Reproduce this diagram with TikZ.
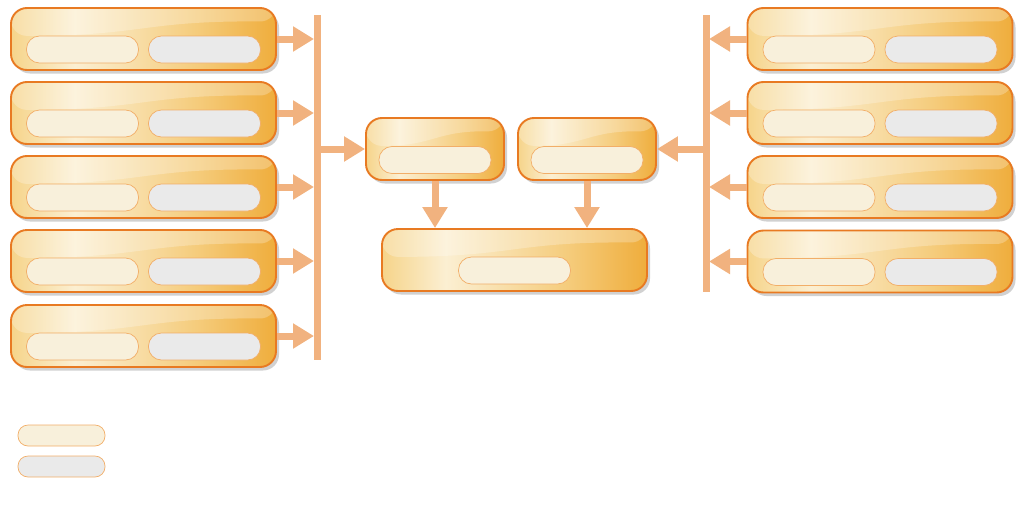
\documentclass[tikz,border=0pt]{standalone}
\usetikzlibrary{arrows.meta,shadows,calc}
\definecolor{boxedge}{HTML}{E87A22}
\definecolor{shadeA}{HTML}{F6D48A}
\definecolor{shadeB}{HTML}{FBEFD2}
\definecolor{shadeC}{HTML}{F5CC7C}
\definecolor{shadeD}{HTML}{EFAD3C}
\definecolor{pillcream}{HTML}{F8F0DB}
\definecolor{pillgray}{HTML}{EAEAEA}
\definecolor{pilledge}{HTML}{F2AE68}
\definecolor{flowcol}{HTML}{F1B27F}
\pgfdeclarehorizontalshading{boxshade}{100bp}{color(0bp)=(shadeA); color(25bp)=(shadeA); color(37bp)=(shadeB); color(60bp)=(shadeC); color(75bp)=(shadeD); color(100bp)=(shadeD)}
\newcommand{\boxH}{62}
\newcommand{\sideW}{265}
\newcommand{\midW}{138}
\newcommand{\pillX}{61}
\newcommand{\pillY}{10.5}

\begin{document}
\begin{tikzpicture}[x=1pt,y=-1pt,
    box/.style={draw=boxedge,line width=1.9pt,rounded corners=16pt,shading=boxshade,
        minimum height=\boxH pt,inner sep=0pt,
        drop shadow={shadow xshift=3pt,shadow yshift=-3.5pt,opacity=0.3,fill=black!60},
        path picture={\fill[white,fill opacity=0.25]
            (path picture bounding box.north west)
            -- ($(path picture bounding box.north west)!0.45!(path picture bounding box.south west)$)
            .. controls ($(path picture bounding box.north)!0.45!(path picture bounding box.south)$)
            and ($(path picture bounding box.north)!0.2!(path picture bounding box.south)$)
            .. ($(path picture bounding box.north east)!0.22!(path picture bounding box.south east)$)
            -- (path picture bounding box.north east) -- cycle;}},
    pill/.style={draw=pilledge,line width=0.7pt,rounded corners=13pt,fill=pillcream,
        minimum width=112pt,minimum height=27pt,inner sep=0pt},
    greypill/.style={pill,fill=pillgray},
    keypill/.style={draw=pilledge,line width=0.7pt,rounded corners=10pt,
        minimum width=87pt,minimum height=21pt,inner sep=0pt},
    bar/.style={flowcol,line width=7pt},
    flow/.style={flowcol,line width=7pt,-{Triangle[length=21pt,width=24pt]}}]

    % Fix the page size
    \useasboundingbox (0,0) rectangle (1022,530);

    % Source boxes on the left
    \node[box,minimum width=\sideW pt] (l1) at (143.5,39) {};
    \node[box,minimum width=\sideW pt] (l2) at (143.5,113) {};
    \node[box,minimum width=\sideW pt] (l3) at (143.5,187) {};
    \node[box,minimum width=\sideW pt] (l4) at (143.5,261) {};
    \node[box,minimum width=\sideW pt] (l5) at (143.5,336) {};

    % Source boxes on the right
    \node[box,minimum width=\sideW pt] (r1) at (880,39) {};
    \node[box,minimum width=\sideW pt] (r2) at (880,113) {};
    \node[box,minimum width=\sideW pt] (r3) at (880,187) {};
    \node[box,minimum width=\sideW pt] (r4) at (880,261.5) {};

    % Middle boxes
    \node[box,minimum width=\midW pt] (mA) at (435,149) {};
    \node[box,minimum width=\midW pt] (mB) at (587,149) {};
    \node[box,minimum width=\sideW pt] (mC) at (514.5,260) {};

    % Pills inside the boxes
    \node[pill,xshift=-\pillX pt,yshift=-\pillY pt] (l1a) at (l1.center) {};
    \node[greypill,xshift=\pillX pt,yshift=-\pillY pt] (l1b) at (l1.center) {};
    \node[pill,xshift=-\pillX pt,yshift=-\pillY pt] (l2a) at (l2.center) {};
    \node[greypill,xshift=\pillX pt,yshift=-\pillY pt] (l2b) at (l2.center) {};
    \node[pill,xshift=-\pillX pt,yshift=-\pillY pt] (l3a) at (l3.center) {};
    \node[greypill,xshift=\pillX pt,yshift=-\pillY pt] (l3b) at (l3.center) {};
    \node[pill,xshift=-\pillX pt,yshift=-\pillY pt] (l4a) at (l4.center) {};
    \node[greypill,xshift=\pillX pt,yshift=-\pillY pt] (l4b) at (l4.center) {};
    \node[pill,xshift=-\pillX pt,yshift=-\pillY pt] (l5a) at (l5.center) {};
    \node[greypill,xshift=\pillX pt,yshift=-\pillY pt] (l5b) at (l5.center) {};

    \node[pill,xshift=-\pillX pt,yshift=-\pillY pt] (r1a) at (r1.center) {};
    \node[greypill,xshift=\pillX pt,yshift=-\pillY pt] (r1b) at (r1.center) {};
    \node[pill,xshift=-\pillX pt,yshift=-\pillY pt] (r2a) at (r2.center) {};
    \node[greypill,xshift=\pillX pt,yshift=-\pillY pt] (r2b) at (r2.center) {};
    \node[pill,xshift=-\pillX pt,yshift=-\pillY pt] (r3a) at (r3.center) {};
    \node[greypill,xshift=\pillX pt,yshift=-\pillY pt] (r3b) at (r3.center) {};
    \node[pill,xshift=-\pillX pt,yshift=-\pillY pt] (r4a) at (r4.center) {};
    \node[greypill,xshift=\pillX pt,yshift=-\pillY pt] (r4b) at (r4.center) {};

    \node[pill,yshift=-11pt] (mAa) at (mA.center) {};
    \node[pill,yshift=-11pt] (mBa) at (mB.center) {};
    \node[pill,yshift=-10.5pt] (mCa) at (mC.center) {};

    % Collecting bars
    \coordinate (barLtop) at (317,15);
    \coordinate (barLbot) at (317,360);
    \coordinate (barRtop) at (706,15);
    \coordinate (barRbot) at (706,292);
    \draw[bar] (barLtop) -- (barLbot);
    \draw[bar] (barRtop) -- (barRbot);

    % Arrows into the bars
    \draw[flow,shorten >=3pt] (l1.east) -- (l1.east -| barLtop);
    \draw[flow,shorten >=3pt] (l2.east) -- (l2.east -| barLtop);
    \draw[flow,shorten >=3pt] (l3.east) -- (l3.east -| barLtop);
    \draw[flow,shorten >=3pt] (l4.east) -- (l4.east -| barLtop);
    \draw[flow,shorten >=3pt] (l5.east) -- (l5.east -| barLtop);
    \draw[flow,shorten >=3pt] (r1.west) -- (r1.west -| barRtop);
    \draw[flow,shorten >=3pt] (r2.west) -- (r2.west -| barRtop);
    \draw[flow,shorten >=3pt] (r3.west) -- (r3.west -| barRtop);
    \draw[flow,shorten >=3pt] (r4.west) -- (r4.west -| barRtop);

    % Arrows out of the bars and down
    \draw[flow] (mA.west -| barLtop) -- (mA.west);
    \draw[flow] (mB.east -| barRtop) -- (mB.east);
    \draw[flow] (mA.south) -- (mA.south |- mC.north);
    \draw[flow] (mB.south) -- (mB.south |- mC.north);

    % Key
    \node[keypill,fill=pillcream] (key1) at (61.5,435.5) {};
    \node[keypill,fill=pillgray] (key2) at (61.5,466.5) {};
\end{tikzpicture}
\end{document}
